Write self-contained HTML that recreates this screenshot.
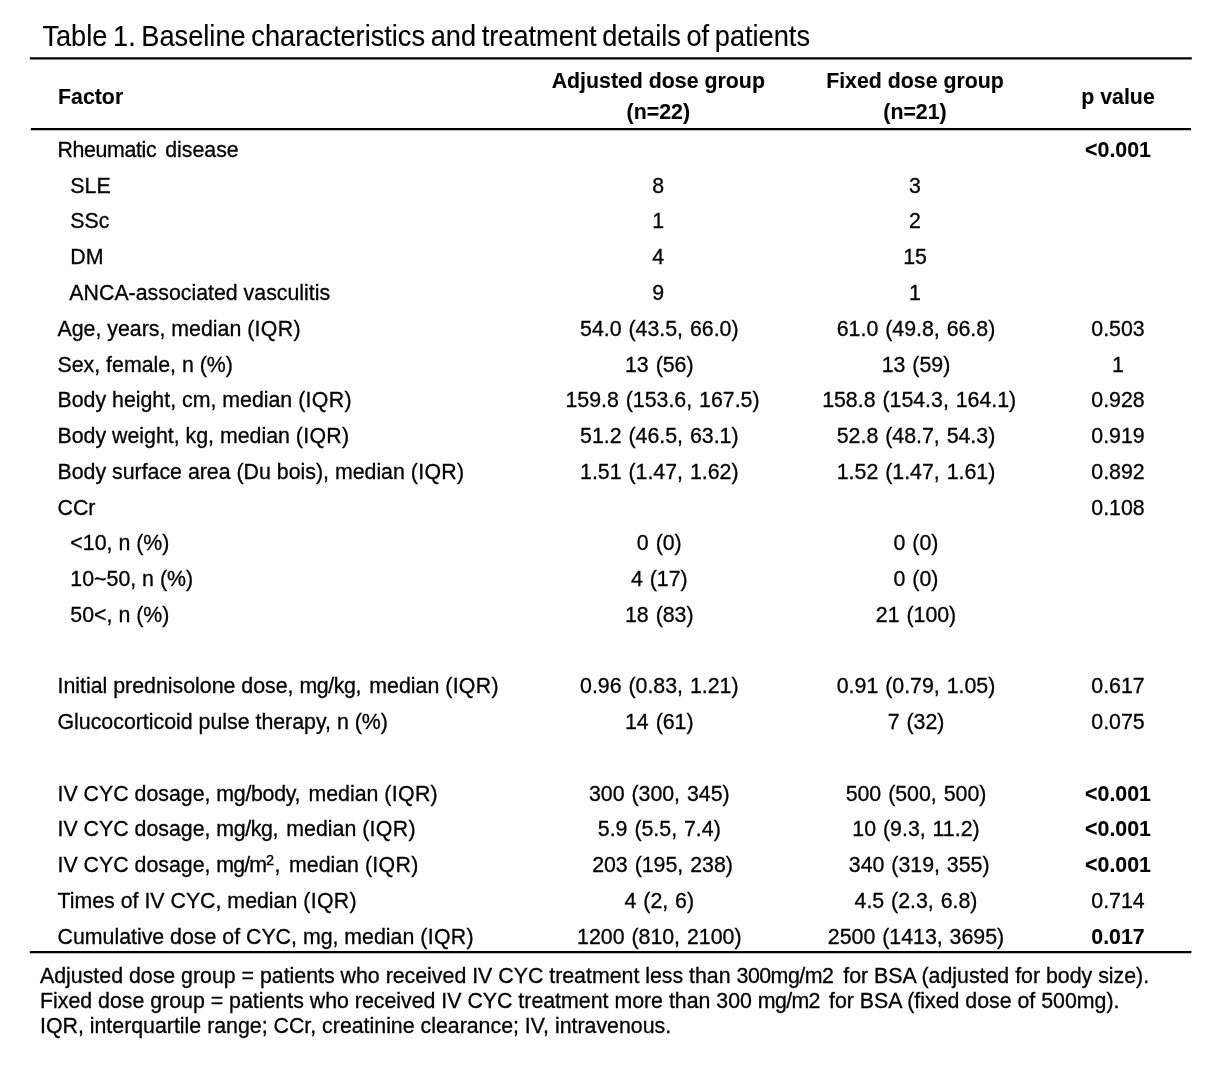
<!DOCTYPE html>
<html><head><meta charset="utf-8"><title>Table 1</title>
<style>
html,body{margin:0;padding:0;background:#fff;}
body{width:1224px;height:1074px;position:relative;overflow:hidden;font-family:"Liberation Sans",Arial,sans-serif;color:#000;}
.t{position:absolute;white-space:nowrap;-webkit-text-stroke:0.3px #000;font-size:21.33px;line-height:24px;height:24px;}
.c{text-align:center;width:300px;}
.n{word-spacing:1px;}
.b{font-weight:bold;-webkit-text-stroke:0.1px #000;}
.ln{position:absolute;left:30px;width:1161px;height:2px;background:#111;}
sup{font-size:14.5px;line-height:0;vertical-align:7px;}
#title{font-size:27.2px;word-spacing:-1.9px;line-height:32px;height:32px;left:42.4px;top:20.6px;-webkit-text-stroke:0.12px #000;transform:scaleY(1.055);transform-origin:0 25.1px;}
.fn{font-size:21.33px;}
</style></head><body>
<div class="t" id="title">Table 1. Baseline characteristics and treatment details of patients</div>
<svg width="1224" height="1074" style="position:absolute;left:0;top:0"><g stroke="#000" stroke-width="2.2" stroke-linecap="butt">
<line x1="29.8" x2="1191.8" y1="58.45" y2="58.45"/>
<line x1="30.8" x2="1191" y1="129.1" y2="129.1"/>
<line x1="29.8" x2="1191.4" y1="952.1" y2="952.1"/>
</g></svg>
<div class="t b" style="left:58.0px;top:84.99px">Factor</div>
<div class="t c b" style="left:508.3px;top:68.99px">Adjusted dose group</div>
<div class="t c b" style="left:508.3px;top:99.79px">(n=22)</div>
<div class="t c b" style="left:765.0px;top:68.99px">Fixed dose group</div>
<div class="t c b" style="left:765.0px;top:99.79px">(n=21)</div>
<div class="t c b" style="left:968.0px;top:84.99px">p value</div>
<div class="t " style="left:57.5px;top:137.94px"><span style="letter-spacing:-0.35px">Rheumatic</span><span style="margin-left:3px"> disease</span></div>
<div class="t c b" style="left:968.0px;top:137.94px">&lt;0.001</div>
<div class="t " style="left:58.5px;top:173.70px">  SLE</div>
<div class="t c n" style="left:508.3px;top:173.70px">8</div>
<div class="t c n" style="left:765.0px;top:173.70px">3</div>
<div class="t " style="left:58.5px;top:209.46px">  SSc</div>
<div class="t c n" style="left:508.3px;top:209.46px">1</div>
<div class="t c n" style="left:765.0px;top:209.46px">2</div>
<div class="t " style="left:58.5px;top:245.22px">  DM</div>
<div class="t c n" style="left:508.3px;top:245.22px">4</div>
<div class="t c n" style="left:765.0px;top:245.22px">15</div>
<div class="t " style="left:57.5px;top:280.98px">  ANCA-associated vasculitis</div>
<div class="t c n" style="left:508.3px;top:280.98px">9</div>
<div class="t c n" style="left:765.0px;top:280.98px">1</div>
<div class="t " style="left:57.5px;top:316.74px">Age, years, median <span style="letter-spacing:0.320px">(IQR)</span></div>
<div class="t c n" style="left:509.3px;top:316.74px">54.0 (43.5, 66.0)</div>
<div class="t c n" style="left:766.0px;top:316.74px">61.0 (49.8, 66.8)</div>
<div class="t c " style="left:968.0px;top:316.74px">0.503</div>
<div class="t " style="left:57.5px;top:352.50px">Sex, female, n (%)</div>
<div class="t c n" style="left:509.3px;top:352.50px">13 (56)</div>
<div class="t c n" style="left:766.0px;top:352.50px">13 (59)</div>
<div class="t c " style="left:968.0px;top:352.50px">1</div>
<div class="t " style="left:57.5px;top:388.26px">Body height, cm, median <span style="letter-spacing:0.320px">(IQR)</span></div>
<div class="t c n" style="left:512.5px;top:388.26px">159.8 (153.6, 167.5)</div>
<div class="t c n" style="left:769.2px;top:388.26px">158.8 (154.3, 164.1)</div>
<div class="t c " style="left:968.0px;top:388.26px">0.928</div>
<div class="t " style="left:57.5px;top:424.02px">Body weight, kg, median <span style="letter-spacing:0.320px">(IQR)</span></div>
<div class="t c n" style="left:509.3px;top:424.02px">51.2 (46.5, 63.1)</div>
<div class="t c n" style="left:766.0px;top:424.02px">52.8 (48.7, 54.3)</div>
<div class="t c " style="left:968.0px;top:424.02px">0.919</div>
<div class="t " style="left:57.5px;top:459.78px">Body surface area (Du bois), median <span style="letter-spacing:0.320px">(IQR)</span></div>
<div class="t c n" style="left:509.3px;top:459.78px">1.51 (1.47, 1.62)</div>
<div class="t c n" style="left:766.0px;top:459.78px">1.52 (1.47, 1.61)</div>
<div class="t c " style="left:968.0px;top:459.78px">0.892</div>
<div class="t " style="left:57.5px;top:495.54px">CCr</div>
<div class="t c " style="left:968.0px;top:495.54px">0.108</div>
<div class="t " style="left:58.5px;top:531.30px">  &lt;10, n (%)</div>
<div class="t c n" style="left:509.3px;top:531.30px">0 (0)</div>
<div class="t c n" style="left:766.0px;top:531.30px">0 (0)</div>
<div class="t " style="left:58.5px;top:567.06px">  10~50, n (%)</div>
<div class="t c n" style="left:509.3px;top:567.06px">4 (17)</div>
<div class="t c n" style="left:766.0px;top:567.06px">0 (0)</div>
<div class="t " style="left:58.5px;top:602.82px">  50&lt;, n (%)</div>
<div class="t c n" style="left:509.3px;top:602.82px">18 (83)</div>
<div class="t c n" style="left:766.0px;top:602.82px">21 (100)</div>
<div class="t " style="left:57.5px;top:674.34px">Initial prednisolone dose, <span style="letter-spacing:-0.400px;margin-right:2.40px">mg/kg,</span> median <span style="letter-spacing:0.320px">(IQR)</span></div>
<div class="t c n" style="left:509.3px;top:674.34px">0.96 (0.83, 1.21)</div>
<div class="t c n" style="left:766.0px;top:674.34px">0.91 (0.79, 1.05)</div>
<div class="t c " style="left:968.0px;top:674.34px">0.617</div>
<div class="t " style="left:57.5px;top:710.10px">Glucocorticoid pulse therapy, n (%)</div>
<div class="t c n" style="left:509.3px;top:710.10px">14 (61)</div>
<div class="t c n" style="left:766.0px;top:710.10px">7 (32)</div>
<div class="t c " style="left:968.0px;top:710.10px">0.075</div>
<div class="t " style="left:57.5px;top:781.62px">IV CYC dosage, <span style="letter-spacing:-0.300px;margin-right:2.40px">mg/body,</span> median <span style="letter-spacing:0.320px">(IQR)</span></div>
<div class="t c n" style="left:509.3px;top:781.62px">300 (300, 345)</div>
<div class="t c n" style="left:766.0px;top:781.62px">500 (500, 500)</div>
<div class="t c b" style="left:968.0px;top:781.62px">&lt;0.001</div>
<div class="t " style="left:57.5px;top:817.38px">IV CYC dosage, <span style="letter-spacing:-0.400px;margin-right:2.40px">mg/kg,</span> median <span style="letter-spacing:0.320px">(IQR)</span></div>
<div class="t c n" style="left:509.3px;top:817.38px">5.9 (5.5, 7.4)</div>
<div class="t c n" style="left:766.0px;top:817.38px">10 (9.3, 11.2)</div>
<div class="t c b" style="left:968.0px;top:817.38px">&lt;0.001</div>
<div class="t " style="left:57.5px;top:853.14px">IV CYC dosage, <span style="letter-spacing:-0.9px">mg/m</span><sup>2</sup><span style="margin-left:0.4px;margin-right:2.6px">,</span> median <span style="letter-spacing:0.320px">(IQR)</span></div>
<div class="t c n" style="left:512.5px;top:853.14px">203 (195, 238)</div>
<div class="t c n" style="left:769.2px;top:853.14px">340 (319, 355)</div>
<div class="t c b" style="left:968.0px;top:853.14px">&lt;0.001</div>
<div class="t " style="left:57.5px;top:888.90px">Times of IV CYC, median <span style="letter-spacing:0.320px">(IQR)</span></div>
<div class="t c n" style="left:509.3px;top:888.90px">4 (2, 6)</div>
<div class="t c n" style="left:766.0px;top:888.90px">4.5 (2.3, 6.8)</div>
<div class="t c " style="left:968.0px;top:888.90px">0.714</div>
<div class="t " style="left:57.5px;top:924.66px">Cumulative dose of CYC, mg, median <span style="letter-spacing:0.320px">(IQR)</span></div>
<div class="t c n" style="left:509.3px;top:924.66px">1200 (810, 2100)</div>
<div class="t c n" style="left:766.0px;top:924.66px">2500 (1413, 3695)</div>
<div class="t c b" style="left:968.0px;top:924.66px">0.017</div>
<div class="t fn" style="left:40.0px;top:963.89px">Adjusted dose group = patients who received IV CYC treatment less than <span style="letter-spacing:-0.500px;margin-right:4.00px">300mg/m2</span> for BSA (adjusted for body size).</div>
<div class="t fn" style="left:40.0px;top:988.89px">Fixed dose group = patients who received IV CYC treatment more than 300 <span style="letter-spacing:-0.660px;margin-right:3.30px">mg/m2</span> for BSA (fixed dose of 500mg).</div>
<div class="t fn" style="left:40.0px;top:1013.89px">IQR, interquartile range; CCr, creatinine clearance; IV, intravenous.</div>
</body></html>
